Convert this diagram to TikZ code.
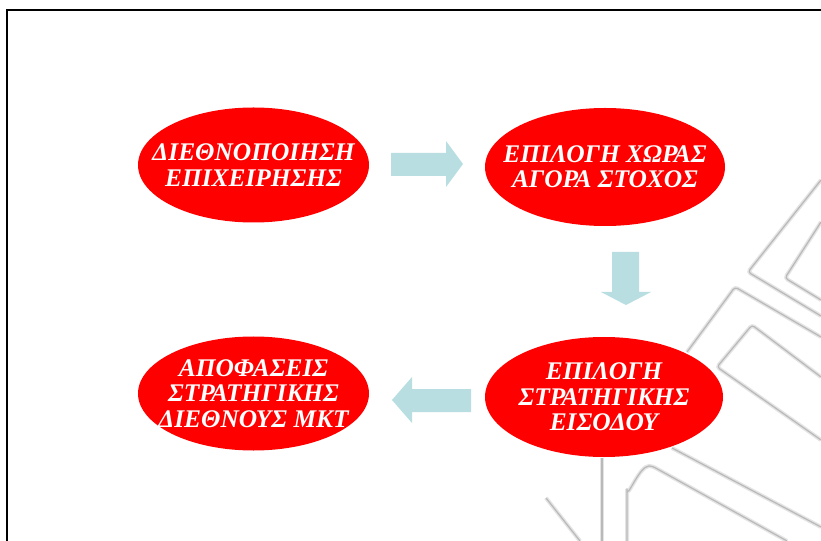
\documentclass[tikz,border=0pt]{standalone}
\usepackage{fontspec}
\setmainfont{Liberation Serif}
\usetikzlibrary{shapes.geometric}
\definecolor{ellred}{RGB}{255,0,0}
\definecolor{arrowblue}{RGB}{184,222,226}
\definecolor{wmgray}{RGB}{185,185,185}
\definecolor{wmhalo}{RGB}{228,228,228}
\tikzset{
  stage/.style={ellipse, fill=ellred, draw=none, inner sep=0pt},
  stagetext/.style={text=white, align=center, inner sep=0pt,
    font=\fontsize{25.5}{25.5}\selectfont\bfseries\itshape},
  arrowfill/.style={fill=arrowblue, draw=none},
  wm/.style={draw=wmgray, line width=1.2bp, line join=round, rounded corners=3bp,
    preaction={draw=wmhalo, line width=4bp}},
  frameline/.style={draw=black, line width=2bp}
}
\begin{document}
\begin{tikzpicture}[x=1bp,y=-1bp]
\useasboundingbox (0,0) rectangle (821,541);
\fill[white] (0,0) rectangle (821,541);
% background watermark
\draw[wm] (821,180) -- (748,272) -- (821,316);
\draw[wm] (821,222) -- (785,278) -- (821,300);
\draw[wm] (687,352) -- (735,287) -- (821,337);
\draw[wm] (821,377) -- (752,325) -- (717,367) -- (821,440);
\draw[wm] (672,448) -- (821,527);
\draw[wm] (627,541) -- (627,487) to[out=-90,in=180] (652,466) -- (787,541);
\draw[wm] (602,541) -- (602,458);
\draw[wm] (546,498) -- (580,541);
% frame
\draw[frameline] (6.5,541) -- (6.5,10.5) -- (821,10.5);
% stages
\node[stage, minimum width=231bp, minimum height=115bp,
  label={[stagetext]center:ΔΙΕΘΝΟΠΟΙΗΣΗ\\ΕΠΙΧΕΙΡΗΣΗΣ}] (s1) at (253.5,165) {};
\node[stage, minimum width=240bp, minimum height=118bp,
  label={[stagetext]center:ΕΠΙΛΟΓΗ ΧΩΡΑΣ\\ΑΓΟΡΑ ΣΤΟΧΟΣ}] (s2) at (605,167) {};
\node[stage, minimum width=238bp, minimum height=120bp,
  label={[stagetext]center:ΕΠΙΛΟΓΗ\\ΣΤΡΑΤΗΓΙΚΗΣ\\ΕΙΣΟΔΟΥ}] (s3) at (604,397) {};
\node[stage, minimum width=231bp, minimum height=114bp,
  label={[stagetext]center:ΑΠΟΦΑΣΕΙΣ\\ΣΤΡΑΤΗΓΙΚΗΣ\\ΔΙΕΘΝΟΥΣ ΜΚΤ}] (s4) at (253.5,393.5) {};
% block arrows
\fill[arrowfill] (391,153) -- (446,153) -- (446,141) -- (463,164) -- (446,187)
  -- (446,176) -- (391,176) -- cycle;
\fill[arrowfill] (612,252) -- (639,252) -- (639,292) -- (651,292) -- (626,305)
  -- (601,292) -- (612,292) -- cycle;
\fill[arrowfill] (471,389) -- (412,389) -- (412,377) -- (392,400) -- (412,423)
  -- (412,412) -- (471,412) -- cycle;
\end{tikzpicture}
\end{document}
